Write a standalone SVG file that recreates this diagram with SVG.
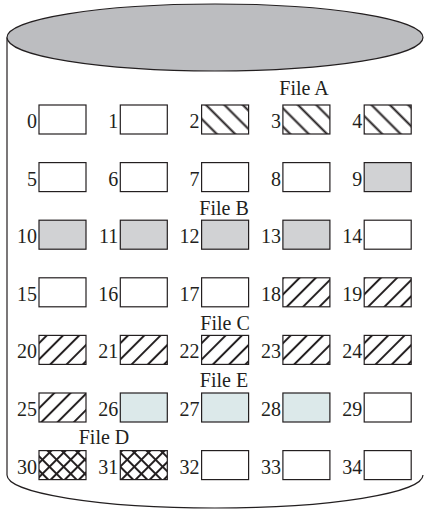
<svg xmlns="http://www.w3.org/2000/svg" width="424" height="510" viewBox="0 0 424 510">
<style>
.box{stroke:#231f20;stroke-width:1.2}
.w{fill:#fff}
.g{fill:#d1d2d4}
.b{fill:#dce9ea}
.hA{fill:url(#hatchA)}
.hC{fill:url(#hatchC)}
.hD{fill:url(#hatchD)}
text{font-family:"Liberation Serif","Times New Roman",serif;font-size:20px;fill:#231f20}
.n{text-anchor:end}
.f{text-anchor:middle}
</style>
<defs>
<pattern id="hatchA" patternUnits="userSpaceOnUse" width="13" height="13" patternTransform="rotate(45)">
<rect width="13" height="13" fill="#fff"/>
<line x1="0" y1="6.5" x2="13" y2="6.5" stroke="#231f20" stroke-width="2"/>
</pattern>
<pattern id="hatchC" patternUnits="userSpaceOnUse" width="11.5" height="11.5" patternTransform="rotate(45)">
<rect width="11.5" height="11.5" fill="#fff"/>
<line x1="5.75" y1="0" x2="5.75" y2="11.5" stroke="#231f20" stroke-width="2"/>
</pattern>
<pattern id="hatchD" patternUnits="userSpaceOnUse" width="10" height="10" patternTransform="rotate(45)">
<rect width="10" height="10" fill="#fff"/>
<line x1="5" y1="0" x2="5" y2="10" stroke="#231f20" stroke-width="2"/>
<line x1="0" y1="5" x2="10" y2="5" stroke="#231f20" stroke-width="2"/>
</pattern>
</defs>
<g id="cylinder">
<path d="M7,37.5 L7,475 A208,33 0 0 0 423,475" fill="#fff" stroke="#231f20" stroke-width="1.2"/>
<ellipse cx="215" cy="37.5" rx="208" ry="33.5" fill="#bcbdc0" stroke="#231f20" stroke-width="1.2"/>
</g>
<g id="labels">
<text class="f" x="304" y="95">File A</text>
<text class="f" x="224" y="215">File B</text>
<text class="f" x="225" y="330">File C</text>
<text class="f" x="224" y="387">File E</text>
<text class="f" x="104" y="444">File D</text>
</g>
<g id="b0"><text class="n" x="37" y="128">0</text><rect class="box w" x="39" y="105" width="47" height="29"/></g>
<g id="b1"><text class="n" x="118.3" y="128">1</text><rect class="box w" x="120.3" y="105" width="47" height="29"/></g>
<g id="b2"><text class="n" x="199.6" y="128">2</text><rect class="box hA" x="201.6" y="105" width="47" height="29"/></g>
<g id="b3"><text class="n" x="280.9" y="128">3</text><rect class="box hA" x="282.9" y="105" width="47" height="29"/></g>
<g id="b4"><text class="n" x="362.2" y="128">4</text><rect class="box hA" x="364.2" y="105" width="47" height="29"/></g>

<g id="b5"><text class="n" x="37" y="185.6">5</text><rect class="box w" x="39" y="162.6" width="47" height="29"/></g>
<g id="b6"><text class="n" x="118.3" y="185.6">6</text><rect class="box w" x="120.3" y="162.6" width="47" height="29"/></g>
<g id="b7"><text class="n" x="199.6" y="185.6">7</text><rect class="box w" x="201.6" y="162.6" width="47" height="29"/></g>
<g id="b8"><text class="n" x="280.9" y="185.6">8</text><rect class="box w" x="282.9" y="162.6" width="47" height="29"/></g>
<g id="b9"><text class="n" x="362.2" y="185.6">9</text><rect class="box g" x="364.2" y="162.6" width="47" height="29"/></g>

<g id="b10"><text class="n" x="37" y="243.2">10</text><rect class="box g" x="39" y="220.2" width="47" height="29"/></g>
<g id="b11"><text class="n" x="118.3" y="243.2">11</text><rect class="box g" x="120.3" y="220.2" width="47" height="29"/></g>
<g id="b12"><text class="n" x="199.6" y="243.2">12</text><rect class="box g" x="201.6" y="220.2" width="47" height="29"/></g>
<g id="b13"><text class="n" x="280.9" y="243.2">13</text><rect class="box g" x="282.9" y="220.2" width="47" height="29"/></g>
<g id="b14"><text class="n" x="362.2" y="243.2">14</text><rect class="box w" x="364.2" y="220.2" width="47" height="29"/></g>

<g id="b15"><text class="n" x="37" y="300.8">15</text><rect class="box w" x="39" y="277.8" width="47" height="29"/></g>
<g id="b16"><text class="n" x="118.3" y="300.8">16</text><rect class="box w" x="120.3" y="277.8" width="47" height="29"/></g>
<g id="b17"><text class="n" x="199.6" y="300.8">17</text><rect class="box w" x="201.6" y="277.8" width="47" height="29"/></g>
<g id="b18"><text class="n" x="280.9" y="300.8">18</text><rect class="box hC" x="282.9" y="277.8" width="47" height="29"/></g>
<g id="b19"><text class="n" x="362.2" y="300.8">19</text><rect class="box hC" x="364.2" y="277.8" width="47" height="29"/></g>

<g id="b20"><text class="n" x="37" y="358.4">20</text><rect class="box hC" x="39" y="335.4" width="47" height="29"/></g>
<g id="b21"><text class="n" x="118.3" y="358.4">21</text><rect class="box hC" x="120.3" y="335.4" width="47" height="29"/></g>
<g id="b22"><text class="n" x="199.6" y="358.4">22</text><rect class="box hC" x="201.6" y="335.4" width="47" height="29"/></g>
<g id="b23"><text class="n" x="280.9" y="358.4">23</text><rect class="box hC" x="282.9" y="335.4" width="47" height="29"/></g>
<g id="b24"><text class="n" x="362.2" y="358.4">24</text><rect class="box hC" x="364.2" y="335.4" width="47" height="29"/></g>

<g id="b25"><text class="n" x="37" y="416">25</text><rect class="box hC" x="39" y="393" width="47" height="29"/></g>
<g id="b26"><text class="n" x="118.3" y="416">26</text><rect class="box b" x="120.3" y="393" width="47" height="29"/></g>
<g id="b27"><text class="n" x="199.6" y="416">27</text><rect class="box b" x="201.6" y="393" width="47" height="29"/></g>
<g id="b28"><text class="n" x="280.9" y="416">28</text><rect class="box b" x="282.9" y="393" width="47" height="29"/></g>
<g id="b29"><text class="n" x="362.2" y="416">29</text><rect class="box w" x="364.2" y="393" width="47" height="29"/></g>

<g id="b30"><text class="n" x="37" y="473.6">30</text><rect class="box hD" x="39" y="450.6" width="47" height="29"/></g>
<g id="b31"><text class="n" x="118.3" y="473.6">31</text><rect class="box hD" x="120.3" y="450.6" width="47" height="29"/></g>
<g id="b32"><text class="n" x="199.6" y="473.6">32</text><rect class="box w" x="201.6" y="450.6" width="47" height="29"/></g>
<g id="b33"><text class="n" x="280.9" y="473.6">33</text><rect class="box w" x="282.9" y="450.6" width="47" height="29"/></g>
<g id="b34"><text class="n" x="362.2" y="473.6">34</text><rect class="box w" x="364.2" y="450.6" width="47" height="29"/></g>
</svg>
